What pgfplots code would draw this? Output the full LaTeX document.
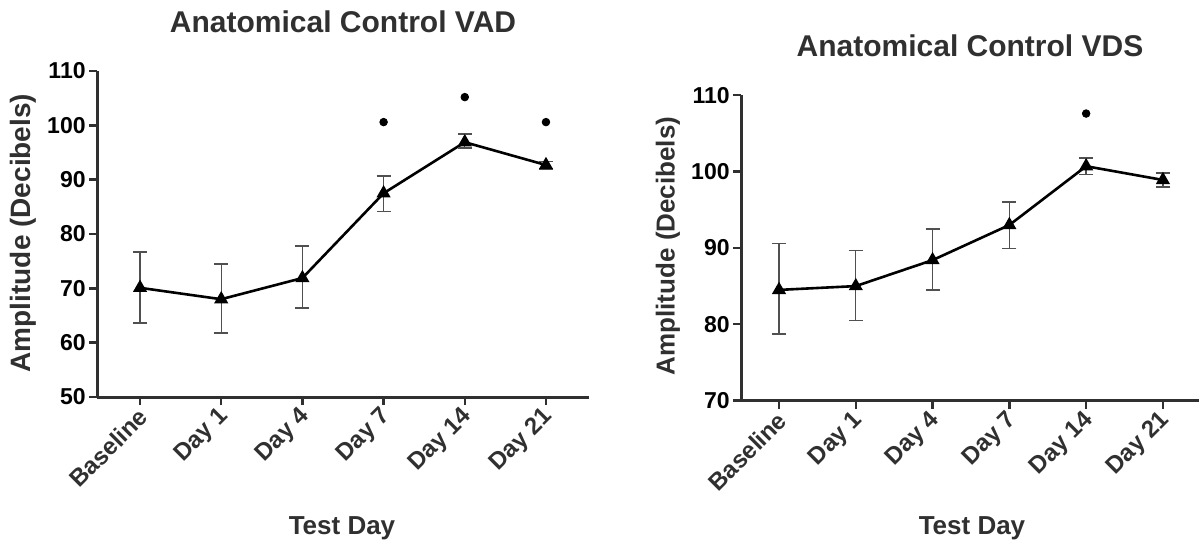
\documentclass[border=0pt]{standalone}
\usepackage{pgfplots}
\pgfplotsset{compat=1.18}
\usepackage{fontspec}
\setmainfont{Liberation Sans}
\definecolor{axgray}{HTML}{303030}
\definecolor{errgray}{HTML}{505050}

\pgfplotstableread{
x y ep em
0 70.1 6.6 6.5
1 68.0 6.5 6.2
2 71.9 5.9 5.5
3 87.5 3.2 3.3
4 96.9 1.5 1.1
5 92.7 0.7 0.7
}\vad
\pgfplotstableread{
x y ep em
0 84.5 6.1 5.8
1 85.0 4.7 4.5
2 88.4 4.1 3.9
3 93.0 3.0 3.1
4 100.7 1.1 1.1
5 98.9 0.9 0.9
}\vds

\pgfplotsset{
  gp/.style={
    scale only axis,
    axis lines*=left,
    axis line style={line width=1.5pt, axgray},
    tick align=outside,
    major tick length=4pt,
    tick style={line width=1.2pt, axgray},
    xtick={0,...,5},
    xticklabels={Baseline,Day 1,Day 4,Day 7,Day 14,Day 21},
    xticklabel style={rotate=45, anchor=east, font=\bfseries\fontsize{12}{12}\selectfont, text=axgray, inner sep=0.5pt, yshift=-4pt, xshift=-1pt},
    yticklabel style={font=\bfseries\fontsize{11.5}{12}\selectfont, text=black, inner sep=1.5pt},
    /pgf/number format/assume math mode=true,
    clip=false,
  },
  dataline/.style={black, line width=1.3pt, mark=triangle*, mark size=2.8pt,
    mark options={solid},
    error bars/.cd, y dir=both, y explicit,
    error bar style={line width=0.7pt, errgray},
    error mark options={rotate=90, mark size=3.5pt, line width=0.7pt, errgray}},
}

\begin{document}
\begin{tikzpicture}
\useasboundingbox (0,0) rectangle (599.5pt,-274pt);

\begin{axis}[gp,
  at={(48.5pt,-198.5pt)}, anchor=south west,
  width=246pt, height=163pt,
  xmin=-0.53, xmax=5.53, ymin=50, ymax=110, ytick={50,60,...,110}]
\addplot[dataline] table[x=x, y=y, y error plus=ep, y error minus=em] {\vad};
\addplot[only marks, mark=*, mark size=1.9pt, black] coordinates {(3,100.6) (4,105.2) (5,100.6)};
\end{axis}

\begin{axis}[gp,
  at={(370.5pt,-200.3pt)}, anchor=south west,
  width=229pt, height=152.7pt,
  xmin=-0.495, xmax=5.47, ymin=70, ymax=110, ytick={70,80,...,110}]
\addplot[dataline] table[x=x, y=y, y error plus=ep, y error minus=em] {\vds};
\addplot[only marks, mark=*, mark size=1.9pt, black] coordinates {(4,107.6)};
\end{axis}

\node[font=\bfseries\fontsize{15}{15}\selectfont, text=axgray, anchor=base] at (171.5pt,-16pt) {Anatomical Control VAD};
\node[font=\bfseries\fontsize{15}{15}\selectfont, text=axgray, anchor=base] at (485pt,-28pt) {Anatomical Control VDS};
\node[font=\bfseries\fontsize{14}{14}\selectfont, text=axgray, rotate=90] at (11.5pt,-116.5pt) {Amplitude (Decibels)};
\node[font=\bfseries\fontsize{13}{13}\selectfont, text=axgray, rotate=90] at (334pt,-123pt) {Amplitude (Decibels)};
\node[font=\bfseries\fontsize{13}{13}\selectfont, text=axgray, anchor=base] at (171pt,-267pt) {Test Day};
\node[font=\bfseries\fontsize{13}{13}\selectfont, text=axgray, anchor=base] at (486pt,-267pt) {Test Day};
\end{tikzpicture}
\end{document}
